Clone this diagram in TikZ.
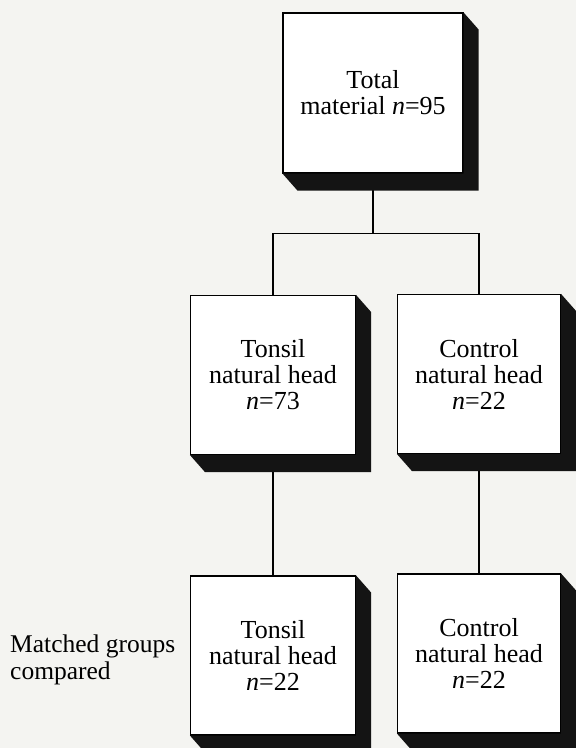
\documentclass[tikz,border=0pt]{standalone}
\usepackage{fontspec}
\setmainfont{Liberation Serif}
\usepackage{tikz}
\usetikzlibrary{positioning}
\definecolor{npaper}{HTML}{F4F4F1}
\definecolor{nshade}{HTML}{141414}
\tikzset{
  box/.style={draw, fill=white, line width=1.1pt, align=center, minimum width=165pt,
              minimum height=159pt, inner sep=0pt, font=\fontsize{26}{26}\selectfont},
  link/.style={line width=1.2pt},
  shadowfill/.style={fill=nshade},
  lbl/.style={align=left, inner sep=0pt, font=\fontsize{25.5}{27}\selectfont},
}

\begin{document}
\begin{tikzpicture}[x=1pt,y=-1pt]
  \fill[npaper] (0,0) rectangle (576,748);
  \useasboundingbox (0,0) rectangle (576,748);

  \node[box, minimum width=180pt, minimum height=160pt] (total) at (373,93) {Total\\material \textit{n}=95};
  \node[box] (tonsil) at (273,375) {Tonsil\\natural head\\\textit{n}=73};
  \node[box, minimum width=163pt] (control) at (479,374) {Control\\natural head\\\textit{n}=22};
  \node[box] (tonsilm) at (273,655.5) {Tonsil\\natural head\\\textit{n}=22};
  \node[box, minimum width=163pt] (controlm) at (479,653.5) {Control\\natural head\\\textit{n}=22};
  \node[lbl, anchor=west] (matched) at (10,660) {Matched groups\\compared};

  \draw[link] (total.south) -- ++(0,60) -| (tonsil.north);
  \draw[link] (total.south) ++(0,60) -| (control.north);
  \draw[link] (tonsil.south) -- (tonsilm.north);
  \draw[link] (control.south) -- (controlm.north);

  % solid shadows below and right of each box
  \foreach \b in {total,tonsil,control,tonsilm,controlm}
    \fill[shadowfill] (\b.south west) -- ++(15,17) -| ([shift={(15,17)}]\b.north east)
      -- (\b.north east) -- (\b.south east) -- cycle;
\end{tikzpicture}
\end{document}
